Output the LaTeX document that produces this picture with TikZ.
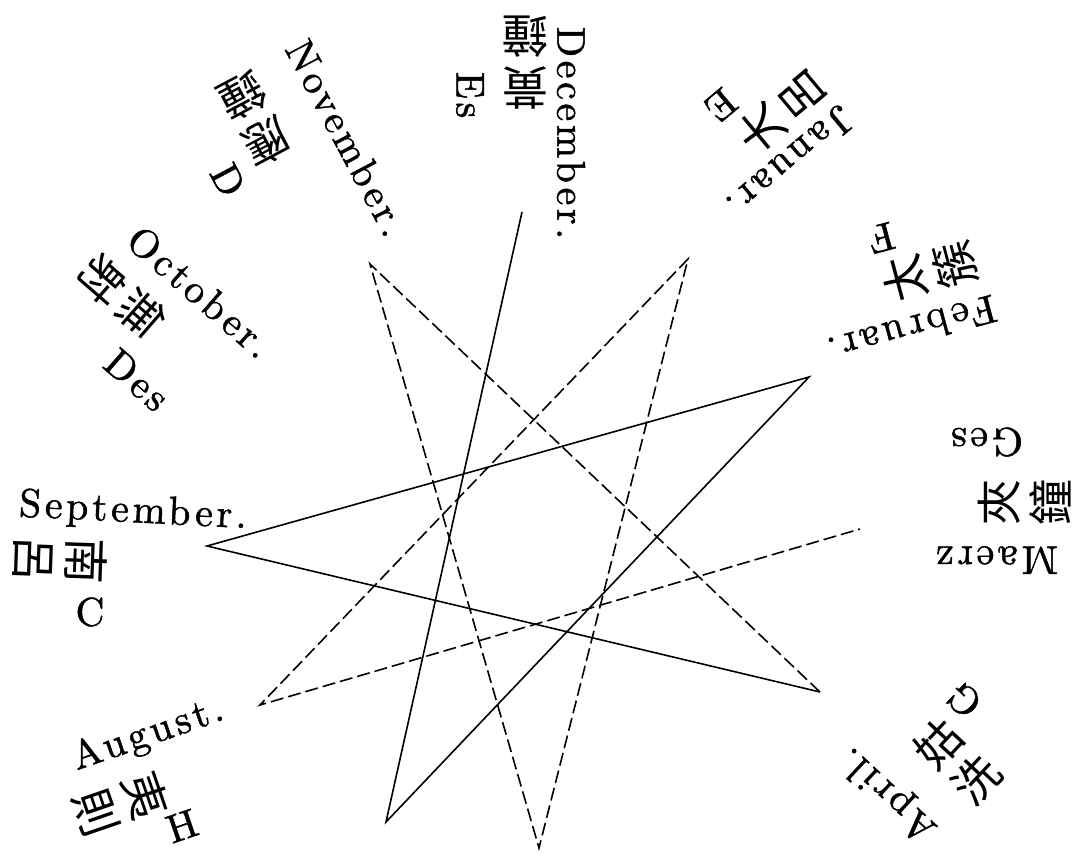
\documentclass[tikz,border=0pt]{standalone}
\usepackage{fontspec}
\usepackage{tikz}
\usetikzlibrary{positioning}
\newfontfamily\cjk{Noto Sans CJK TC}
\newfontfamily\spaced{lmroman10-regular}[Extension=.otf,LetterSpace=9,FakeBold=1.2]
\tikzset{
  monthname/.style={inner sep=0pt,font=\spaced\fontsize{40}{40}\selectfont},
  luname/.style={inner sep=0pt,align=center,font=\cjk\fontsize{46}{52}\selectfont},
  pitchname/.style={inner sep=0pt,font=\spaced\fontsize{40}{40}\selectfont},
  solidline/.style={line width=1.6pt,line join=miter},
  dashline/.style={line width=1.6pt,dash pattern=on 13pt off 5pt}
}
\begin{document}
\begin{tikzpicture}[x=1pt,y=-1pt]
\useasboundingbox (0,0) rectangle (1080,855);
\fill[white] (0,0) rectangle (1080,855);

\coordinate (dec) at (522,212);
\coordinate (jan) at (688,259);
\coordinate (feb) at (809,377);
\coordinate (mar) at (860,529);
\coordinate (apr) at (820,692);
\coordinate (jun) at (539,848);
\coordinate (jul) at (386,822);
\coordinate (aug) at (260,705);
\coordinate (sep) at (207,546);
\coordinate (nov) at (370,264);

\draw[solidline] (dec) -- (jul) -- (feb) -- (sep) -- (apr);
\draw[dashline] (apr) -- (nov) -- (jun) -- (jan) -- (aug) -- (mar);

\node[monthname,rotate=-3] (sepname) at (133,512) {September.};
\node[luname,rotate=-92] (seplu) at (60,560) {南\\呂};
\node[pitchname] (sepnote) at (90,612) {C};

\node[monthname,rotate=-41] (octname) at (200,292) {October.};
\node[luname,rotate=-131] (octlu) at (122,297) {無\\射};
\node[pitchname,rotate=-41] (octnote) at (137,380) {Des};

\node[monthname,rotate=-62] (novname) at (347,138) {November.};
\node[luname,rotate=-152] (novlu) at (255,120) {應\\鐘};
\node[pitchname,rotate=-62] (novnote) at (228,180) {D};

\node[monthname,rotate=-90] (decname) at (571,133) {December.};
\node[luname,rotate=180] (declu) at (525,63) {黃\\鐘};
\node[pitchname,rotate=-90] (decnote) at (470,95) {Es};

\node[monthname,rotate=-140] (janname) at (790,162) {Januar.};
\node[luname,rotate=130] (janlu) at (781,112) {大\\呂};
\node[pitchname,rotate=-140] (jannote) at (721,105) {E};

\node[monthname,rotate=-165] (febname) at (912,330) {Februar.};
\node[luname,rotate=105] (feblu) at (930,272) {太\\簇};
\node[pitchname,rotate=-165] (febnote) at (881,238) {F};

\node[monthname,rotate=180] (marname) at (997,560) {Maerz};
\node[luname,rotate=90] (marlu) at (1025,502) {夾\\鐘};
\node[pitchname,rotate=180] (marnote) at (987,442) {Ges};

\node[monthname,rotate=137] (aprname) at (888,794) {April.};
\node[luname,rotate=47] (aprlu) at (957,762) {姑\\洗};
\node[pitchname,rotate=137] (aprnote) at (964,700) {G};

\node[monthname,rotate=19] (augname) at (148,735) {August.};
\node[luname,rotate=-71] (auglu) at (121,804) {夷\\則};
\node[pitchname,rotate=19] (augnote) at (182,826) {H};
\end{tikzpicture}
\end{document}
